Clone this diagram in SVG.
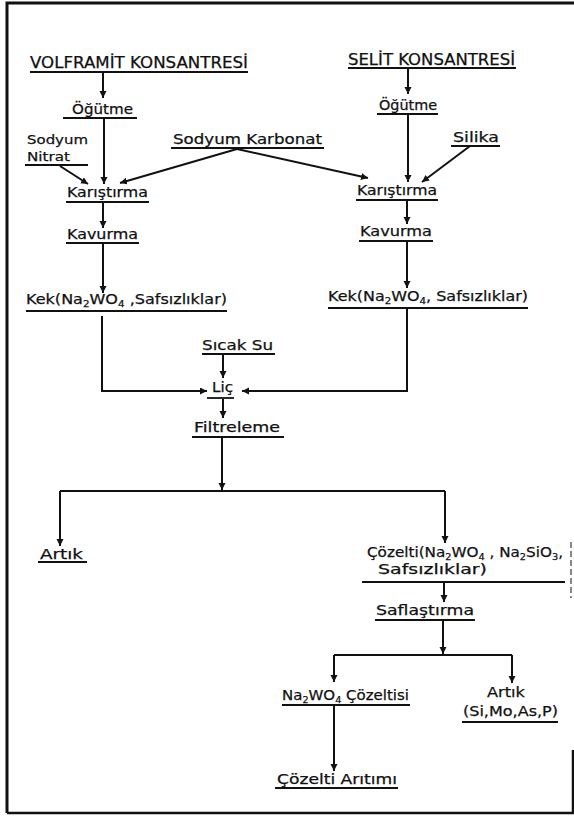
<svg xmlns="http://www.w3.org/2000/svg" width="574" height="820" viewBox="0 0 574 820">
<style>
text{font-family:"DejaVu Sans","Liberation Sans",sans-serif;font-size:14px;fill:#111;stroke:#111;stroke-width:0.25}
.cap{font-size:15px}
.sm{font-size:13px}
.u{stroke:#111;stroke-width:1.8;fill:none}
.c{stroke:#111;stroke-width:2;fill:none}
.a{marker-end:url(#ah)}
.sub{font-size:9px}
.frame{stroke:#111;fill:none}
</style>
<defs>
<marker id="ah" markerUnits="userSpaceOnUse" markerWidth="8" markerHeight="8" refX="7" refY="3.5" orient="auto">
<path d="M0,0 L7,3.5 L0,7 z" fill="#111"/>
</marker>
</defs>
<rect width="574" height="820" fill="#fff"/>
<g id="frame">
<path class="frame" stroke-width="3" d="M7,813 V3 H574"/>
<path class="frame" stroke-width="2.5" d="M7,813 H573 V750"/>
<path class="frame" stroke-width="1" stroke-dasharray="6 3" d="M571,542 V598"/>
</g>
<g id="connectors">
<path class="c a" d="M103,72 V98"/>
<path class="c a" d="M104,118 V184"/>
<path class="c a" d="M60,166 L88,184"/>
<path class="c a" d="M237,149 L120,183"/>
<path class="c a" d="M237,149 L368,178"/>
<path class="c a" d="M103,202 V228"/>
<path class="c a" d="M103,243 V293"/>
<path class="c a" d="M102,316 V391 H207"/>
<path class="c a" d="M223,354 V378"/>
<path class="c a" d="M407,308 V391 H242"/>
<path class="c a" d="M408,68 V94"/>
<path class="c a" d="M408,114 V182"/>
<path class="c a" d="M470,146 L422,182"/>
<path class="c a" d="M407,200 V224"/>
<path class="c a" d="M407,241 V288"/>
<path class="c a" d="M223,399 V418"/>
<path class="c a" d="M222,437 V490"/>
<path class="c" d="M60,491 H445"/>
<path class="c a" d="M60,491 V546"/>
<path class="c a" d="M445,491 V543"/>
<path class="c a" d="M444,582 V602"/>
<path class="c a" d="M443,620 V654"/>
<path class="c" d="M334,655 H512"/>
<path class="c a" d="M334,655 V682"/>
<path class="c a" d="M512,655 V683"/>
<path class="c a" d="M334,705 V771"/>
</g>
<g id="volframit">
<text class="cap" x="30" y="68" textLength="218" lengthAdjust="spacingAndGlyphs">VOLFRAMİT KONSANTRESİ</text>
<path class="u" d="M30,72 H248"/>
</g>
<g id="selit">
<text class="cap" x="348" y="65" textLength="167" lengthAdjust="spacingAndGlyphs">SELİT KONSANTRESİ</text>
<path class="u" d="M348,68 H516"/>
</g>
<g id="ogutme-l">
<text x="72" y="114" textLength="61" lengthAdjust="spacingAndGlyphs">Öğütme</text>
<path class="u" d="M63,118 H137"/>
</g>
<g id="ogutme-r">
<text x="379" y="110" textLength="58" lengthAdjust="spacingAndGlyphs">Öğütme</text>
<path class="u" d="M377,114 H438"/>
</g>
<g id="sodyum-nitrat">
<text class="sm" x="27" y="144" textLength="61" lengthAdjust="spacingAndGlyphs">Sodyum</text>
<text class="sm" x="27" y="161" textLength="43" lengthAdjust="spacingAndGlyphs">Nitrat</text>
<path class="u" d="M25,165 H88"/>
</g>
<g id="sodyum-karbonat">
<text x="173" y="144" textLength="149" lengthAdjust="spacingAndGlyphs">Sodyum Karbonat</text>
<path class="u" d="M171,148 H324"/>
</g>
<g id="silika">
<text x="453" y="142" textLength="46" lengthAdjust="spacingAndGlyphs">Silika</text>
<path class="u" d="M451,146 H500"/>
</g>
<g id="karistirma-l">
<text x="67" y="197" textLength="81" lengthAdjust="spacingAndGlyphs">Karıştırma</text>
<path class="u" d="M66,202 H149"/>
</g>
<g id="karistirma-r">
<text x="357" y="195" textLength="80" lengthAdjust="spacingAndGlyphs">Karıştırma</text>
<path class="u" d="M356,200 H438"/>
</g>
<g id="kavurma-l">
<text x="67" y="239" textLength="71" lengthAdjust="spacingAndGlyphs">Kavurma</text>
<path class="u" d="M66,243 H139"/>
</g>
<g id="kavurma-r">
<text x="360" y="236" textLength="72" lengthAdjust="spacingAndGlyphs">Kavurma</text>
<path class="u" d="M359,241 H433"/>
</g>
<g id="kek-l">
<text x="26" y="304" textLength="201" lengthAdjust="spacingAndGlyphs">Kek(Na<tspan class="sub" dy="3">2</tspan><tspan dy="-3">WO</tspan><tspan class="sub" dy="3">4</tspan><tspan dy="-3"> ,Safsızlıklar)</tspan></text>
<path class="u" d="M26,311 H227"/>
</g>
<g id="kek-r">
<text x="328" y="301" textLength="200" lengthAdjust="spacingAndGlyphs">Kek(Na<tspan class="sub" dy="3">2</tspan><tspan dy="-3">WO</tspan><tspan class="sub" dy="3">4</tspan><tspan dy="-3">, Safsızlıklar)</tspan></text>
<path class="u" d="M328,308 H528"/>
</g>
<g id="sicak-su">
<text x="202" y="350" textLength="71" lengthAdjust="spacingAndGlyphs">Sıcak Su</text>
<path class="u" d="M202,354 H275"/>
</g>
<g id="lic">
<text x="212" y="392" textLength="21" lengthAdjust="spacingAndGlyphs">Liç</text>
<path class="u" d="M207,398 H234"/>
</g>
<g id="filtreleme">
<text x="194" y="432" textLength="86" lengthAdjust="spacingAndGlyphs">Filtreleme</text>
<path class="u" d="M192,437 H284"/>
</g>
<g id="artik-l">
<text x="40" y="559" textLength="43" lengthAdjust="spacingAndGlyphs">Artık</text>
<path class="u" d="M38,562 H87"/>
</g>
<g id="cozelti">
<text x="367" y="557" textLength="196" lengthAdjust="spacingAndGlyphs">Çözelti(Na<tspan class="sub" dy="3">2</tspan><tspan dy="-3">WO</tspan><tspan class="sub" dy="3">4</tspan><tspan dy="-3"> , Na</tspan><tspan class="sub" dy="3">2</tspan><tspan dy="-3">SiO</tspan><tspan class="sub" dy="3">3</tspan><tspan dy="-3">,</tspan></text>
<text x="378" y="574" textLength="109" lengthAdjust="spacingAndGlyphs">Safsızlıklar)</text>
<path class="u" d="M362,582 H565"/>
</g>
<g id="saflastirma">
<text x="376" y="615" textLength="98" lengthAdjust="spacingAndGlyphs">Saflaştırma</text>
<path class="u" d="M375,620 H475"/>
</g>
<g id="na2wo4-cozeltisi">
<text x="282" y="700" textLength="127" lengthAdjust="spacingAndGlyphs">Na<tspan class="sub" dy="3">2</tspan><tspan dy="-3">WO</tspan><tspan class="sub" dy="3">4</tspan><tspan dy="-3"> Çözeltisi</tspan></text>
<path class="u" d="M282,705 H410"/>
</g>
<g id="artik-r">
<text x="487" y="697" textLength="38" lengthAdjust="spacingAndGlyphs">Artık</text>
<text x="463" y="716" textLength="95" lengthAdjust="spacingAndGlyphs">(Si,Mo,As,P)</text>
<path class="u" d="M462,722 H558"/>
</g>
<g id="cozelti-aritimi">
<text x="277" y="784" textLength="120" lengthAdjust="spacingAndGlyphs">Çözelti Arıtımı</text>
<path class="u" d="M275,788 H398"/>
</g>
</svg>
